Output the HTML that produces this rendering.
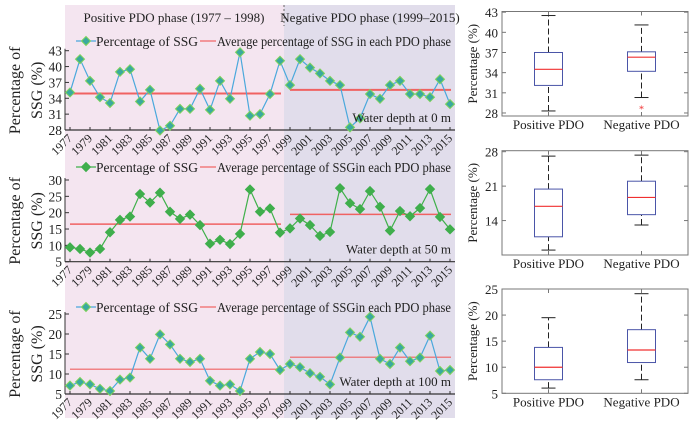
<!DOCTYPE html>
<html><head><meta charset="utf-8"><style>
body{margin:0;background:#fff;}
svg{display:block;font-family:"Liberation Serif",serif;}
</style></head><body>
<svg id="c" width="698" height="428" viewBox="0 0 698 428"></svg>
<script>
const years = [];
for (let y = 1977; y <= 2015; y++) years.push(y);
const tickYears = [1977,1979,1981,1983,1985,1987,1989,1991,1993,1995,1997,1999,2001,2003,2005,2007,2009,2011,2013,2015];
const ssg0 = [35.1,41.4,37.3,34.2,33.1,39.0,39.5,33.4,35.6,27.9,28.8,32.0,32.0,35.8,31.8,37.3,33.9,42.7,30.7,31.0,34.8,41.1,36.5,41.4,39.8,38.7,37.3,36.5,28.5,30.2,34.8,33.9,36.5,37.3,34.8,34.8,34.2,37.6,32.9];
const ssg50 = [9.4,8.9,7.8,8.9,14.0,17.8,18.8,25.7,23.1,26.1,20.3,18.1,19.4,16.2,10.5,11.7,10.4,13.5,27.1,20.3,21.3,13.9,15.2,18.2,16.2,12.9,14.1,27.5,22.9,21.1,26.6,21.8,14.5,20.5,18.9,21.4,27.2,18.7,14.9];
const ssg100 = [7.1,8.0,7.4,6.3,5.75,8.6,9.1,16.6,13.8,19.9,17.4,13.8,13.0,13.8,8.3,7.1,7.4,5.75,13.8,15.5,15.0,11.0,12.5,11.7,10.2,9.3,7.4,14.1,20.4,19.3,24.3,13.8,12.5,16.6,13.2,14.1,19.6,10.75,11.0];
const avg0 = [34.9,35.6];
const avg50 = [16.5,19.5];
const avg100 = [11.2,14.2];
const ticks0 = [28,31,34,37,40,43];
const ticks50 = [5,10,15,20,25,30];
const ticks100 = [5,10,15,20,25];
// box stats: [lowWhisker, Q1, median, Q3, highWhisker] for positive, negative
const box0Pos = [28.3,32.1,34.5,37.0,42.5];
const box0Neg = [30.3,34.2,36.3,37.1,41.1];
const box0Out = [28.7];
const box50Pos = [8.0,10.7,16.9,20.4,27.1];
const box50Neg = [13.1,15.2,18.7,22.0,27.3];
const box100Pos = [6.0,7.6,10.0,13.8,19.5];
const box100Neg = [7.6,10.9,13.3,17.2,24.1];
const boxTicks0 = [28,31,34,37,40,43];
const boxTicks50 = [14,21,28];
const boxTicks100 = [5,10,15,20,25];

const NS = "http://www.w3.org/2000/svg";
const svg = document.getElementById('c');
function el(tag, attrs, parent, text){
  const e = document.createElementNS(NS, tag);
  for (const k in attrs) e.setAttribute(k, attrs[k]);
  if (text !== undefined) e.textContent = text;
  (parent || svg).appendChild(e);
  return e;
}
const xS = y => 70 + (y - 1977) * 10;

let bg = el('rect',{x:65,y:5,width:219,height:413,fill:'#f4e5f0'});


bg = el('rect',{x:284,y:5,width:171,height:413,fill:'#e1ddeb'});


let dv = el('line',{x1:284,y1:5,x2:284,y2:26,stroke:'#666','stroke-dasharray':'2,2'});


let t = el('text',{x:174,y:22,'font-size':13,'text-anchor':'middle',fill:'#222'},svg,'Positive PDO phase (1977 – 1998)');


t = el('text',{x:370,y:22,'font-size':13,'text-anchor':'middle',fill:'#222'},svg,'Negative PDO phase (1999–2015)');



function panel(opts){
  const g = el('g',{});
  
  
  const yS = v => opts.yBot - (v - opts.min) / (opts.max - opts.min) * (opts.yBot - opts.yTop);
  el('line',{x1:65,y1:opts.yTop-2,x2:65,y2:opts.yBot,stroke:'#333'},g);
  el('line',{x1:65,y1:opts.yBot,x2:455,y2:opts.yBot,stroke:'#333','stroke-width':1.2},g);
  opts.ticks.forEach(v=>{
    el('line',{x1:65,y1:yS(v),x2:69,y2:yS(v),stroke:'#333'},g);
    const tl = el('text',{x:62,y:yS(v)+5,'font-size':13.5,'text-anchor':'end',fill:'#222'},g,String(v));
    
    
  });
  tickYears.forEach(y=>{
    el('line',{x1:xS(y),y1:opts.yBot,x2:xS(y),y2:opts.yBot-3,stroke:'#333'},g);
    const ax = xS(y)+3, ay = opts.yBot+9;
    const tl = el('text',{x:ax,y:ay,'font-size':12,'text-anchor':'end',fill:'#222',transform:`rotate(-45 ${ax} ${ay})`},g,String(y));
    
    
  });
  const yl = el('text',{'font-size':16,'text-anchor':'middle',fill:'#222',transform:`translate(20 ${(opts.yTop+opts.yBot)/2}) rotate(-90)`},g);
  
  
  el('tspan',{x:0,y:0},yl,'Percentage of');
  el('tspan',{x:0,y:22},yl,'SSG (%)');
  const a1 = el('line',{x1:xS(1977),x2:xS(1998.1),y1:yS(opts.avg[0]),y2:yS(opts.avg[0]),stroke:'#f06262','stroke-width':opts.avgW},g);
  
  
  const a2 = el('line',{x1:xS(1999),x2:xS(2015.1),y1:yS(opts.avg[1]),y2:yS(opts.avg[1]),stroke:'#f06262','stroke-width':opts.avgW},g);
  
  
  const pts = opts.data.map((v,i)=>xS(years[i])+','+yS(v)).join(' ');
  const pl = el('polyline',{points:pts,fill:'none',stroke:opts.line,'stroke-width':1.2},g);
  
  
  opts.data.forEach((v,i)=>{
    const x = xS(years[i]), y = yS(v), r = 4.5;
    const m = el('polygon',{points:`${x},${y-r} ${x+r},${y} ${x},${y+r} ${x-r},${y}`,fill:opts.mFill,stroke:opts.mStroke,'stroke-width':1},g);
    
    
  });
  const ly = opts.legY;
  el('line',{x1:76,x2:96,y1:ly,y2:ly,stroke:opts.line,'stroke-width':1.2},g);
  el('polygon',{points:`86,${ly-4.5} 90.5,${ly} 86,${ly+4.5} 81.5,${ly}`,fill:opts.mFill,stroke:opts.mStroke},g);
  const le1 = el('text',{x:96,y:ly+5,'font-size':13.5,fill:'#222'},g,'Percentage of SSG');
  
  
  el('line',{x1:200,x2:216,y1:ly,y2:ly,stroke:'#f06262','stroke-width':1.2},g);
  const le2 = el('text',{x:217,y:ly+5,'font-size':13.5,fill:'#222',textLength:234,lengthAdjust:'spacingAndGlyphs'},g,opts.legText);
  
  
  const wd = el('text',{x:451,y:opts.yBot-8,'font-size':13,'text-anchor':'end',fill:'#222'},g,opts.depth);
  
  
}
panel({name:'panel-0m',yTop:50.7,yBot:130,min:28,max:43,ticks:ticks0,data:ssg0,avg:avg0,avgW:2,line:'#4aa8dc',mFill:'#3aa99f',mStroke:'#7ed35a',legY:41,legText:'Average percentage of SSG in each PDO phase',depth:'Water depth at 0 m'});
panel({name:'panel-50m',yTop:180,yBot:261.7,min:5,max:30,ticks:ticks50,data:ssg50,avg:avg50,avgW:1.5,line:'#3fb04a',mFill:'#3fae4c',mStroke:'#3fae4c',legY:167,legText:'Average percentage of SSGin each PDO phase',depth:'Water depth at 50 m'});
panel({name:'panel-100m',yTop:314,yBot:394,min:5,max:25,ticks:ticks100,data:ssg100,avg:avg100,avgW:1.2,line:'#4aa8dc',mFill:'#3aa99f',mStroke:'#7ed35a',legY:307,legText:'Average percentage of SSGin each PDO phase',depth:'Water depth at 100 m'});

function boxPanel(o){
  const g = el('g',{});
  
  
  const L=502,R=688;
  const yS = v => o.yBot - (v - o.min)/(o.max-o.min)*(o.yBot-o.yTop);
  el('rect',{x:L,y:o.yTop,width:R-L,height:o.yBot-o.yTop,fill:'#fff',stroke:'#777'},g);
  o.ticks.forEach(v=>{
    el('line',{x1:L,x2:L+4,y1:yS(v),y2:yS(v),stroke:'#777'},g);
    el('line',{x1:R,x2:R-4,y1:yS(v),y2:yS(v),stroke:'#777'},g);
    const tl = el('text',{x:L-4,y:yS(v)+5,'font-size':13,'text-anchor':'end',fill:'#222'},g,String(v));
    
    
  });
  const yl = el('text',{'font-size':13,'text-anchor':'middle',fill:'#222',transform:`translate(477 ${(o.yTop+o.yBot)/2}) rotate(-90)`},g,'Percentage (%)');
  
  
  [[o.pos,'Positive PDO',548.5],[o.neg,'Negative PDO',641.5]].forEach(([s,lab,cx])=>{
    el('line',{x1:cx,x2:cx,y1:o.yBot,y2:o.yBot-4,stroke:'#777'},g);
    el('line',{x1:cx,x2:cx,y1:o.yTop,y2:o.yTop+4,stroke:'#777'},g);
    el('line',{x1:cx,x2:cx,y1:yS(s[0]),y2:yS(s[1]),stroke:'#222','stroke-dasharray':'6,3'},g);
    el('line',{x1:cx,x2:cx,y1:yS(s[3]),y2:yS(s[4]),stroke:'#222','stroke-dasharray':'6,3'},g);
    el('line',{x1:cx-7,x2:cx+7,y1:yS(s[0]),y2:yS(s[0]),stroke:'#222'},g);
    el('line',{x1:cx-7,x2:cx+7,y1:yS(s[4]),y2:yS(s[4]),stroke:'#222'},g);
    const b = el('rect',{x:cx-14,y:yS(s[3]),width:28,height:yS(s[1])-yS(s[3]),fill:'#fff',stroke:'#4a55a8'},g);
    
    
    el('line',{x1:cx-14,x2:cx+14,y1:yS(s[2]),y2:yS(s[2]),stroke:'#f03030','stroke-width':1.2},g);
    const xl = el('text',{x:cx,y:o.yBot+13,'font-size':13,'text-anchor':'middle',fill:'#222'},g,lab);
    
    
  });
  (o.out||[]).forEach(v=>{
    const p = el('text',{x:641.5,y:yS(v)+4,'font-size':10,'text-anchor':'middle',fill:'#f03030'},g,'*');
    
    
  });
}
boxPanel({name:'box-0m',yTop:11.5,yBot:116,min:27.55,max:43.1,ticks:boxTicks0,pos:box0Pos,neg:box0Neg,out:box0Out});
boxPanel({name:'box-50m',yTop:150.7,yBot:255,min:7,max:28.2,ticks:boxTicks50,pos:box50Pos,neg:box50Neg});
boxPanel({name:'box-100m',yTop:289,yBot:393.3,min:5,max:25,ticks:boxTicks100,pos:box100Pos,neg:box100Neg});
</script>
</body></html>
